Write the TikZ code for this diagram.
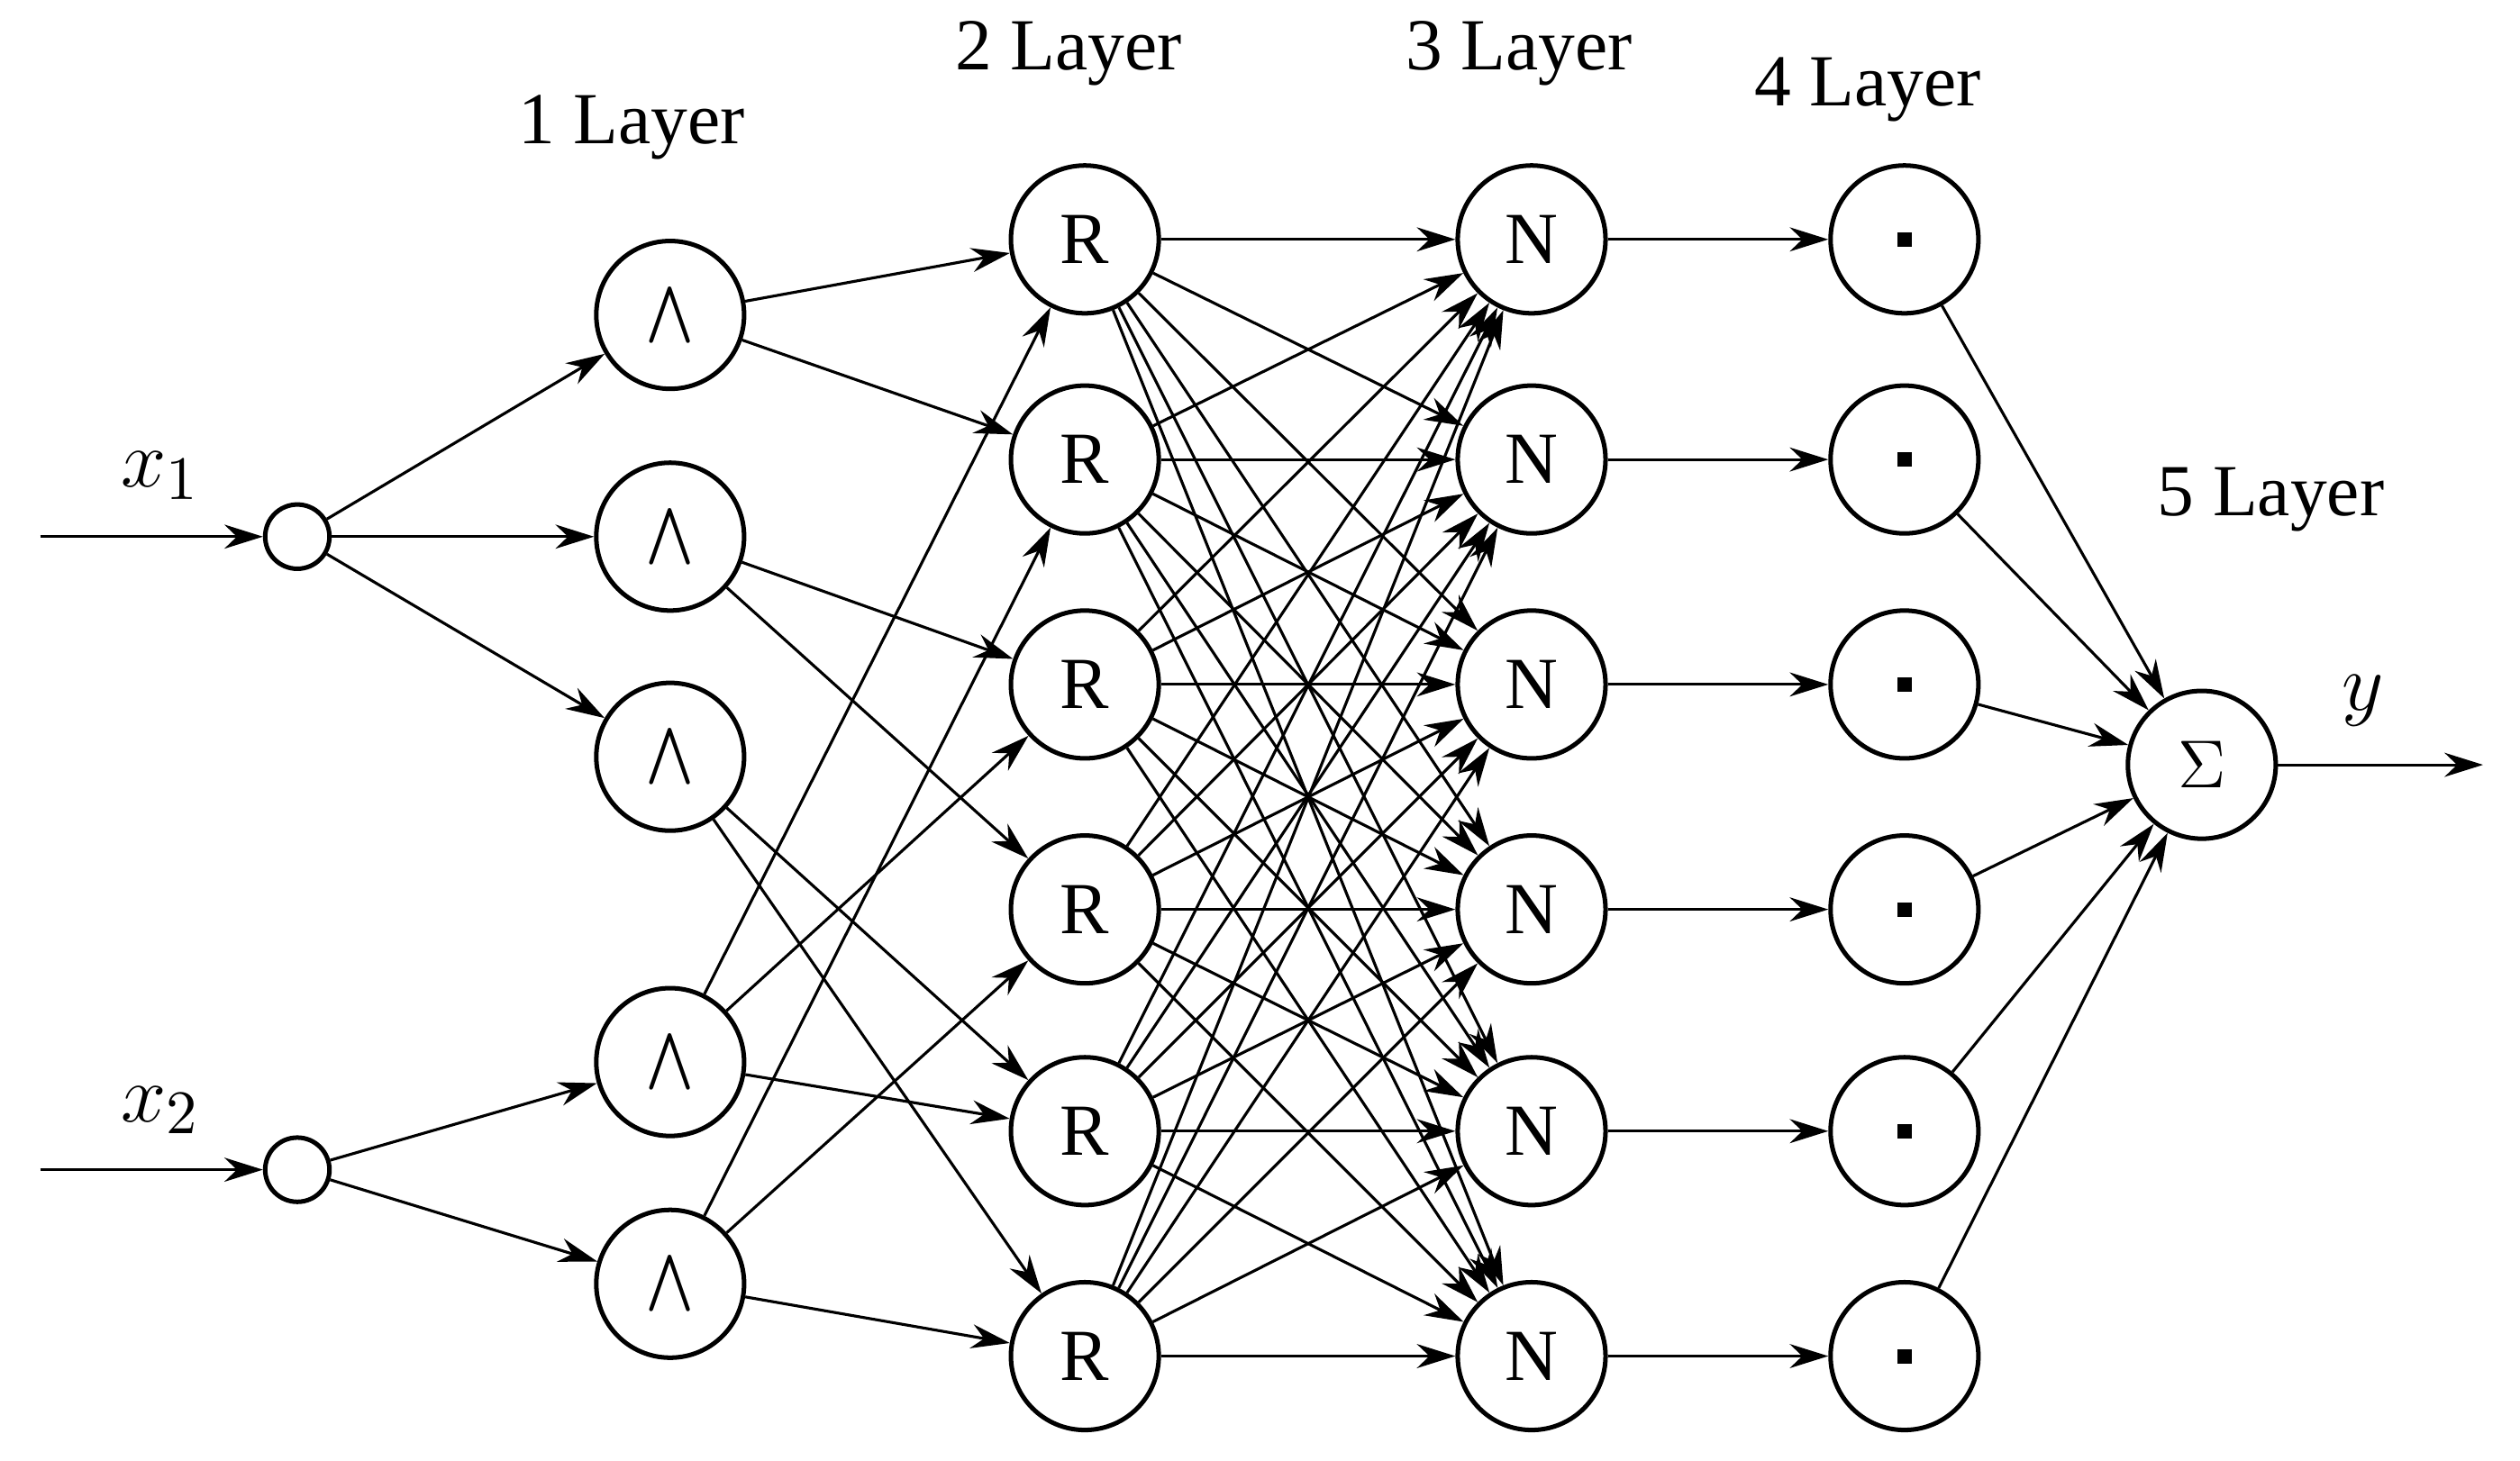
\documentclass[tikz,border=0pt]{standalone}
\usepackage{fontspec}
\setmainfont{Liberation Serif}
\usetikzlibrary{arrows.meta}
\begin{document}
\begin{tikzpicture}[x=1cm,y=1cm,
  font=\fontsize{13}{15}\selectfont,
  big/.style={circle,draw,line width=0.8pt,minimum size=0.92cm,inner sep=0pt},
  small/.style={circle,draw,line width=0.8pt,minimum size=0.4cm,inner sep=0pt},
  arr/.style={line width=0.5pt,-{Stealth[length=2.4mm,width=1.5mm]}}]
\useasboundingbox (0,0) rectangle (15.68,9.09);
\def\Y#1{9.08-#1/100}
\node[small] (x1) at (1.85,{\Y{333}}) {};
\node[small] (x2) at (1.85,{\Y{727}}) {};
\coordinate (i1) at (0.25,{\Y{333}});
\coordinate (i2) at (0.25,{\Y{727}});
\draw[arr] (i1) -- (x1);
\draw[arr] (i2) -- (x2);
\node at (1.0,{\Y{295}}) {\fontsize{15}{17}\selectfont$x_1$};
\node at (1.0,{\Y{690}}) {\fontsize{15}{17}\selectfont$x_2$};
\foreach \i/\y in {1/195,2/333,3/470,4/660,5/798}
  \node[big] (a\i) at (4.17,{\Y{\y}}) {$\bigwedge$};
\foreach \i/\y in {1/148,2/285,3/425,4/565,5/703,6/843}{
  \node[big] (r\i) at (6.75,{\Y{\y}}) {R};
  \node[big] (n\i) at (9.53,{\Y{\y}}) {N};
  \node[big] (p\i) at (11.85,{\Y{\y}}) {\rule{0.9mm}{0.9mm}};
}
\node[big] (s) at (13.70,{\Y{475}}) {$\Sigma$};
\coordinate (out) at (15.45,{\Y{475}});
\draw[arr] (s) -- (out);
\node at (14.70,{\Y{435}}) {\fontsize{15}{17}\selectfont$y$};
\node at (3.93,{\Y{78}}) {1 Layer};
\node at (6.65,{\Y{32}}) {2 Layer};
\node at (9.45,{\Y{32}}) {3 Layer};
\node at (11.62,{\Y{55}}) {4 Layer};
\node at (14.13,{\Y{310}}) {5 Layer};
\foreach \j in {1,2,3} \draw[arr] (x1) -- (a\j);
\foreach \j in {4,5} \draw[arr] (x2) -- (a\j);
\foreach \a/\r in {1/1,1/2,2/3,2/4,3/5,3/6,4/1,4/3,4/5,5/2,5/4,5/6}
  \draw[arr] (a\a) -- (r\r);
\foreach \i in {1,...,6}{
  \foreach \j in {1,...,6} \draw[arr] (r\i) -- (n\j);
  \draw[arr] (n\i) -- (p\i);
  \draw[arr] (p\i) -- (s);
}
\end{tikzpicture}
\end{document}
